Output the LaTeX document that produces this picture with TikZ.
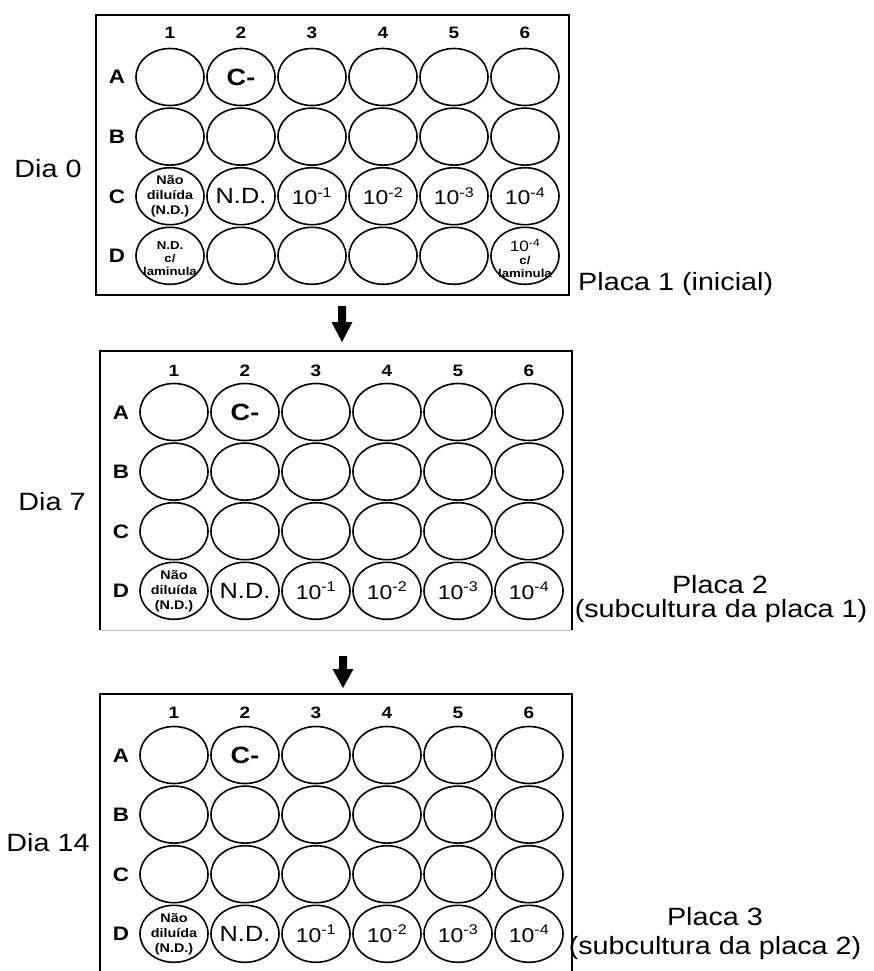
\documentclass[tikz,border=0pt]{standalone}
\usepackage{fontspec}
\setmainfont{Liberation Sans}[FakeStretch=1.15]
\usetikzlibrary{shapes.geometric}
\tikzset{
  well/.style={ellipse, draw, line width=1.6pt, minimum width=68pt, minimum height=57pt, inner sep=0pt},
  collab/.style={font=\bfseries\fontsize{16.5}{18}\selectfont, inner sep=0pt, anchor=base},
  rowlab/.style={font=\bfseries\fontsize{19.5}{20}\selectfont, inner sep=0pt, anchor=base},
  bigtxt/.style={font=\fontsize{25}{30}\selectfont, inner sep=0pt},
  cneg/.style={font=\bfseries\fontsize{23.5}{24}\selectfont, inner sep=0pt},
  ndtxt/.style={font=\fontsize{22}{24}\selectfont, inner sep=0pt},
  powtxt/.style={font=\fontsize{20}{22}\selectfont, inner sep=0pt},
  smalltxt/.style={font=\bfseries\fontsize{12.5}{15}\selectfont, align=center, inner sep=0pt},
  smalltxtb/.style={font=\bfseries\fontsize{11.5}{13}\selectfont, align=center, inner sep=0pt},
  platebox/.style={line width=1.3pt},
  blockarrow/.style={fill=black},
}
\newcommand\drawplate[5]{%
  \foreach \c in {1,...,6}{
    \node[collab] (#1-c\c) at ({#2+71*(\c-1)},{#4+6}) {\c};
    \foreach \R [count=\r] in {A,B,C,D}{
      \node[well] (#1-\R\c) at ({#2+71*(\c-1)},{#3+59.6*(\r-1)}) {};
    }
  }
  \foreach \R [count=\r] in {A,B,C,D}{
    \node[rowlab] (#1-r\R) at (#5,{#3+59.6*(\r-1)+7}) {\R};
  }
}
\begin{document}
\begin{tikzpicture}[x=1pt,y=-1pt]
\useasboundingbox (0,0) rectangle (873,971);

% ---------- Plate 1 ----------
\draw[platebox] (96,15) rectangle (569,295);
\drawplate{p1}{170}{77}{33}{117}
\node[cneg] (p1-A2t) at (p1-A2) {C-};
\node[smalltxt] (p1-C1t) at (p1-C1) {Não\\diluída\\(N.D.)};
\node[ndtxt] (p1-C2t) at (p1-C2) {N.D.};
\node[powtxt] (p1-C3t) at (p1-C3) {10\textsuperscript{-1}};
\node[powtxt] (p1-C4t) at (p1-C4) {10\textsuperscript{-2}};
\node[powtxt] (p1-C5t) at (p1-C5) {10\textsuperscript{-3}};
\node[powtxt] (p1-C6t) at (p1-C6) {10\textsuperscript{-4}};
\node[smalltxtb] (p1-D1t) at ([yshift=-3pt]p1-D1.center) {N.D.\\c/\\laminula};
\node[smalltxtb, font=\fontsize{11.5}{13}\selectfont] (p1-D6t) at ([yshift=-3pt]p1-D6.center)
  {{\fontsize{15}{13}\selectfont 10\textsuperscript{-4}}\\\textbf{c/}\\\textbf{laminula}};
\node[bigtxt, anchor=base] (dia0) at (48,177) {Dia 0};
\node[bigtxt, anchor=base west] (placa1) at (578,290) {Placa 1 (inicial)};

% arrow 1
\coordinate (ar1) at (342,306);
\fill[blockarrow, shift={(ar1)}] (-4,0) -- (4,0) -- (4,16) -- (10.5,16) -- (0,36) -- (-10.5,16) -- (-4,16) -- cycle;

% ---------- Plate 2 ----------
\draw[platebox] (100,630) -- (100,351) -- (572,351) -- (572,630);
\draw[line width=0.8pt, black!25] (100,630) -- (572,630);
\drawplate{p2}{174}{412}{370}{121}
\node[cneg] (p2-A2t) at (p2-A2) {C-};
\node[smalltxt] (p2-D1t) at (p2-D1) {Não\\diluída\\(N.D.)};
\node[ndtxt] (p2-D2t) at (p2-D2) {N.D.};
\node[powtxt] (p2-D3t) at (p2-D3) {10\textsuperscript{-1}};
\node[powtxt] (p2-D4t) at (p2-D4) {10\textsuperscript{-2}};
\node[powtxt] (p2-D5t) at (p2-D5) {10\textsuperscript{-3}};
\node[powtxt] (p2-D6t) at (p2-D6) {10\textsuperscript{-4}};
\node[bigtxt, anchor=base] (dia7) at (52,510) {Dia 7};
\node[bigtxt, anchor=base] (placa2) at (720,593) {Placa 2};
\node[bigtxt, anchor=base] (placa2s) at (721,617) {(subcultura da placa 1)};

% arrow 2
\coordinate (ar2) at (343,656);
\fill[blockarrow, shift={(ar2)}] (-4,0) -- (4,0) -- (4,13) -- (10.5,13) -- (0,32) -- (-10.5,13) -- (-4,13) -- cycle;

% ---------- Plate 3 ----------
\draw[platebox] (100,975) -- (100,694) -- (572,694) -- (572,975);
\drawplate{p3}{174}{755}{712}{121}
\node[cneg] (p3-A2t) at (p3-A2) {C-};
\node[smalltxt] (p3-D1t) at (p3-D1) {Não\\diluída\\(N.D.)};
\node[ndtxt] (p3-D2t) at (p3-D2) {N.D.};
\node[powtxt] (p3-D3t) at (p3-D3) {10\textsuperscript{-1}};
\node[powtxt] (p3-D4t) at (p3-D4) {10\textsuperscript{-2}};
\node[powtxt] (p3-D5t) at (p3-D5) {10\textsuperscript{-3}};
\node[powtxt] (p3-D6t) at (p3-D6) {10\textsuperscript{-4}};
\node[bigtxt, anchor=base] (dia14) at (48,851) {Dia 14};
\node[bigtxt, anchor=base] (placa3) at (715,925) {Placa 3};
\node[bigtxt, anchor=base] (placa3s) at (715,954) {(subcultura da placa 2)};
\end{tikzpicture}
\end{document}
